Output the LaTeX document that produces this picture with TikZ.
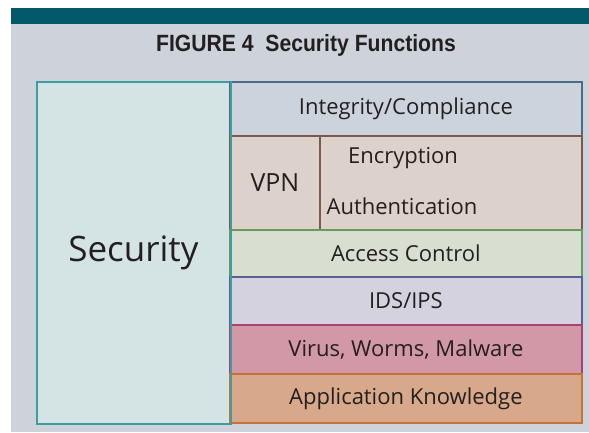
\documentclass[tikz,border=0pt]{standalone}
\usepackage{fontspec}
\setmainfont{Open Sans}
\newfontfamily\titlefont[FakeStretch=0.9]{Liberation Sans}
\definecolor{bgc}{HTML}{CDD2DB}
\definecolor{barc}{HTML}{03586A}
\definecolor{secf}{HTML}{D4E4E4}
\definecolor{secd}{HTML}{3C9E9E}
\definecolor{intf}{HTML}{CDD3DC}
\definecolor{intd}{HTML}{4A6A85}
\definecolor{vpnf}{HTML}{DDD1CC}
\definecolor{vpnd}{HTML}{7A5A4A}
\definecolor{accf}{HTML}{D9DFD0}
\definecolor{accd}{HTML}{6A9A5A}
\definecolor{idsf}{HTML}{D3D2DE}
\definecolor{idsd}{HTML}{5A6090}
\definecolor{virf}{HTML}{D398A8}
\definecolor{vird}{HTML}{A84070}
\definecolor{appf}{HTML}{D8A88A}
\definecolor{appd}{HTML}{C8703A}
\definecolor{txt}{HTML}{231F20}
\begin{document}
\begin{tikzpicture}[x=1pt,y=-1pt,
  box/.style={rectangle, draw, line width=1.8pt, anchor=north west, inner sep=0pt, text=txt, font=\fontsize{22}{24}\selectfont},
  lbl/.style={text=txt, inner sep=0pt, font=\fontsize{22}{24}\selectfont}]
\useasboundingbox (0,0) rectangle (589,432);
\fill[white] (0,0) rectangle (589,432);
\fill[bgc] (11,8) rectangle (589,432);
\fill[barc] (11,8) rectangle (589,24);
\node[text=txt, font=\titlefont\bfseries\fontsize{23.5}{26}\selectfont] (title) at (306,45) {FIGURE 4\ \ Security Functions};
% security
\node[box, draw=secd, fill=secf, minimum width=193pt, minimum height=342pt, font=\fontsize{35}{40}\selectfont] (sec) at (36,81) {Security};
% rows
\node[box, draw=intd, fill=intf, minimum width=352pt, minimum height=54pt] (int) at (229,81) {Integrity/Compliance};
\node[box, draw=vpnd, fill=vpnf, minimum width=352pt, minimum height=94pt] (vpnrow) at (229,135) {};
\node[box, draw=vpnd, fill=vpnf, minimum width=90pt, minimum height=94pt, font=\fontsize{25}{28}\selectfont] (vpn) at (229,135) {VPN};
\node[lbl] (enc) at (403,158) {Encryption};
\node[lbl] (auth) at (402,206) {Authentication};
\node[box, draw=accd, fill=accf, minimum width=352pt, minimum height=47pt] (acc) at (229,229) {Access Control};
\node[box, draw=idsd, fill=idsf, minimum width=352pt, minimum height=48pt] (ids) at (229,276) {IDS/IPS};
\node[box, draw=vird, fill=virf, minimum width=352pt, minimum height=49pt] (vir) at (229,324) {Virus, Worms, Malware};
\node[box, draw=appd, fill=appf, minimum width=352pt, minimum height=49pt] (app) at (229,373) {Application Knowledge};
\draw[secd, line width=1.8pt] (sec.north east) -- (sec.south east);
\end{tikzpicture}
\end{document}
